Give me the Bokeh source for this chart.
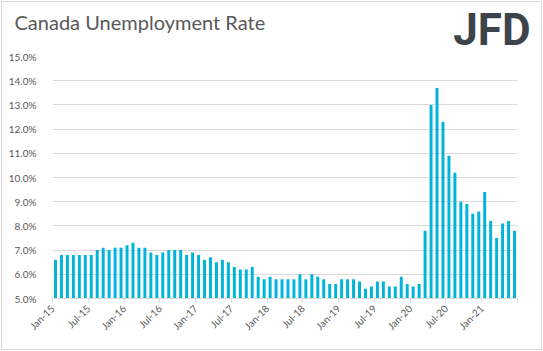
import math
from bokeh.plotting import figure
from bokeh.models import ColumnDataSource, Range1d, FixedTicker, PrintfTickFormatter, Title
from bokeh.embed import file_html
from bokeh.resources import INLINE

# Canada unemployment rate, monthly, Jan-2015 .. Jun-2021 (%)
rate_2015 = [6.6, 6.8, 6.8, 6.8, 6.8, 6.8, 6.8, 7.0, 7.1, 7.0, 7.1, 7.1]
rate_2016 = [7.2, 7.3, 7.1, 7.1, 6.9, 6.8, 6.9, 7.0, 7.0, 7.0, 6.8, 6.9]
rate_2017 = [6.8, 6.6, 6.7, 6.5, 6.6, 6.5, 6.3, 6.2, 6.2, 6.3, 5.9, 5.8]
rate_2018 = [5.9, 5.8, 5.8, 5.8, 5.8, 6.0, 5.8, 6.0, 5.9, 5.8, 5.6, 5.6]
rate_2019 = [5.8, 5.8, 5.8, 5.7, 5.4, 5.5, 5.7, 5.7, 5.5, 5.5, 5.9, 5.6]
rate_2020 = [5.5, 5.6, 7.8, 13.0, 13.7, 12.3, 10.9, 10.2, 9.0, 8.9, 8.5, 8.6]
rate_2021 = [9.4, 8.2, 7.5, 8.1, 8.2, 7.8]

tick_labels = ["Jan-15", "Jul-15", "Jan-16", "Jul-16", "Jan-17", "Jul-17", "Jan-18",
               "Jul-18", "Jan-19", "Jul-19", "Jan-20", "Jul-20", "Jan-21", ""]

rates = rate_2015 + rate_2016 + rate_2017 + rate_2018 + rate_2019 + rate_2020 + rate_2021
n = len(rates)
xs = [i + 0.5 for i in range(n)]
src = ColumnDataSource(dict(x=xs, top=rates, bottom=[5.0] * n))

FONT = "Lato"
GRAY = "#595959"
GRID = "#D9D9D9"

p = figure(width=543, height=351, output_backend="svg", toolbar_location=None,
           x_range=Range1d(0, n), y_range=Range1d(5, 15),
           title="Canada Unemployment Rate",
           min_border_left=52, min_border_right=26, min_border_top=55, min_border_bottom=53)
p.outline_line_color = None
p.background_fill_color = "white"
p.border_fill_color = None
p.styles = {"background-color": "white",
            "box-shadow": "inset 0 0 0 1px white, inset 0 0 0 2px #D9D9D9"}

# main title (outermost panel, pulled down with a negative standoff)
p.title.text_font = FONT
p.title.text_font_size = "20px"
p.title.text_font_style = "normal"
p.title.text_color = GRAY
p.title.align = "left"
p.title.offset = 14 - 52
p.title.vertical_align = "bottom"
p.title.standoff = -67

# logo (inner panel)
logo = Title(text="JFD", align="right", vertical_align="bottom", offset=-13, standoff=2,
             text_font="Roboto", text_font_style="bold", text_font_size="44px",
             text_color="#3D434A")
p.add_layout(logo, "above")

p.vbar(x="x", top="top", bottom="bottom", width=0.5, source=src,
       fill_color="#00B4DC", line_color=None)

# x axis
tick_pos = list(range(0, n + 1, 6))
p.xaxis.ticker = FixedTicker(ticks=tick_pos)
p.xaxis.major_label_overrides = {t: lab for t, lab in zip(tick_pos, tick_labels)}
p.xaxis.major_label_orientation = math.pi / 4
p.xaxis.axis_line_color = GRID
p.xaxis.major_tick_line_color = GRID
p.xaxis.major_tick_out = 4
p.xaxis.major_tick_in = 0
p.xaxis.minor_tick_line_color = None
p.xaxis.major_label_text_font = FONT
p.xaxis.major_label_text_font_size = "10px"
p.xaxis.major_label_text_color = GRAY
p.xaxis.major_label_standoff = 4
p.xgrid.grid_line_color = None

# y axis
p.yaxis.ticker = FixedTicker(ticks=list(range(5, 16)))
p.yaxis.formatter = PrintfTickFormatter(format="%.1f%%")
p.yaxis.axis_line_color = None
p.yaxis.major_tick_line_color = None
p.yaxis.minor_tick_line_color = None
p.yaxis.major_label_text_font = FONT
p.yaxis.major_label_text_font_size = "10px"
p.yaxis.major_label_text_color = GRAY
p.yaxis.major_label_standoff = 10
p.ygrid.grid_line_color = GRID
p.ygrid.ticker = FixedTicker(ticks=list(range(5, 16)))

open("out.html", "w").write(file_html(p, INLINE))
